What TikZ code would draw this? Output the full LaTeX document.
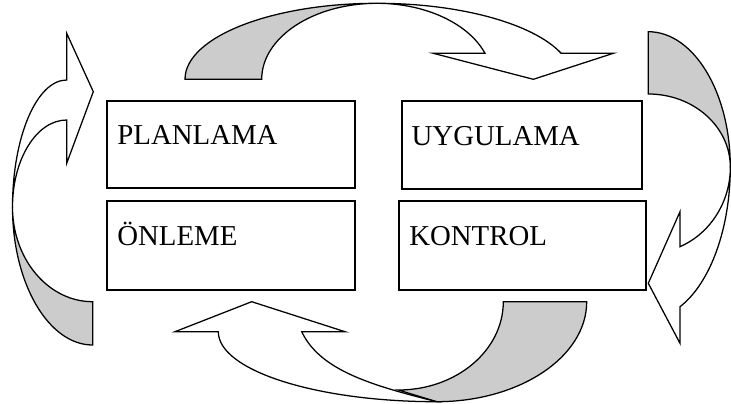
\documentclass[tikz,border=0pt]{standalone}
\usepackage{fontspec}
\setmainfont{Liberation Serif}
\usepackage{tikz}
\usetikzlibrary{positioning}
\usepackage{xcolor}

\tikzset{
  kutu/.style={draw, rectangle, line width=1.4pt, inner xsep=0.25cm, inner ysep=0pt,
    text height=0.5cm, text depth=0.5cm, align=left, font=\fontsize{20.5}{24}\selectfont},
  arkayuz/.style={draw, fill=gray!40, line width=0.9pt},
  onyuz/.style={draw, fill=white, line width=0.9pt}
}

\begin{document}
\begin{tikzpicture}[x=0.025cm, y=-0.025cm]
            \useasboundingbox (0,0) rectangle (731,403);
            % ust ok
            \draw[arkayuz] (185,79.3) arc[start angle=180, end angle=270, x radius=192, y radius=76] arc[start angle=270, end angle=180, x radius=115.3, y radius=76] -- cycle;
            \draw[onyuz] (377,3.3) arc[start angle=270, end angle=340, x radius=196, y radius=76] -- (613.3,53.3) -- (533.3,79.3) -- (433.3,53.3) -- (485,53.3) arc[start angle=340, end angle=270, x radius=115, y radius=76] -- cycle;
            % sag ok
            \draw[arkayuz] (648.3,31.7) arc[start angle=270, end angle=360, x radius=82, y radius=135.3] arc[start angle=0, end angle=-90, x radius=82, y radius=73] -- cycle;
            \draw[onyuz] (730.3,167) arc[start angle=0, end angle=67.3, x radius=82, y radius=151.5] -- (680,343.3) -- (648.3,283.3) -- (680,211.7) -- (680,246.7) arc[start angle=67.3, end angle=0, x radius=82, y radius=86.4] -- cycle;
            % alt ok
            \draw[arkayuz] (586.7,301.7) arc[start angle=0, end angle=90, x radius=150, y radius=100] -- (398.3,390) arc[start angle=90, end angle=0, x radius=105, y radius=88.3] -- cycle;
            \draw[onyuz] (436.7,401.7) arc[start angle=90, end angle=180, x radius=218.4, y radius=70] -- (175,331.7) -- (251.7,301.7) -- (345,331.7) -- (301.7,331.7) .. controls (320,370) and (370,385) .. (436.7,401.7) -- cycle;
            % sol ok
            \draw[arkayuz] (92.7,345) arc[start angle=90, end angle=180, x radius=80.2, y radius=138] arc[start angle=180, end angle=90, x radius=80.2, y radius=94.7] -- cycle;
            \draw[onyuz] (12.5,207) arc[start angle=180, end angle=270, x radius=54.2, y radius=127] -- (66.7,33.3) -- (93.3,91.7) -- (66.7,163.3) -- (66.7,120) arc[start angle=270, end angle=180, x radius=54.2, y radius=87] -- cycle;
            % kutular
            \node[kutu, text width=5.69cm, minimum height=2.18cm] (plan) at (231.2,144.7) {PLANLAMA};
            \node[kutu, text width=5.5cm, minimum height=2.2cm] (uyg) at (521.7,145) {UYGULAMA};
            \node[kutu, text width=5.69cm, minimum height=2.23cm] (onl) at (231.2,245.4) {ÖNLEME};
            \node[kutu, text width=5.67cm, minimum height=2.23cm] (kont) at (522.7,245.4) {KONTROL};
        \end{tikzpicture}
\end{document}
